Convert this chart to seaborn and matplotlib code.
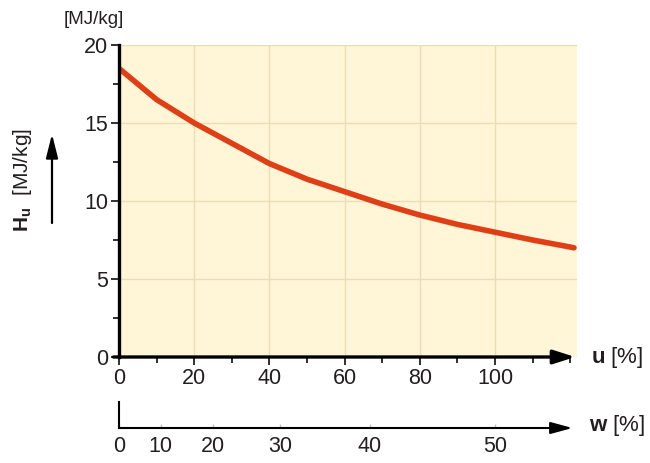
import numpy as np
import pandas as pd

import matplotlib.pyplot as plt
import seaborn as sns
from matplotlib.ticker import MultipleLocator


# ---------------- data ----------------
u_moisture = [0, 10, 20, 30, 40, 50, 60, 70, 80, 90, 100, 110, 120, 121]
heating_value = [18.5, 16.5, 15.0, 13.7, 12.4, 11.4, 10.6, 9.8, 9.1, 8.5, 8.0, 7.5, 7.05, 7.0]

u_ticks = [0, 20, 40, 60, 80, 100]
y_ticks = [0, 5, 10, 15, 20]
w_ticks = [0, 10, 20, 30, 40, 50]

df = pd.DataFrame({"u": u_moisture, "Hu": heating_value})

# ---------------- style ----------------
sns.set_theme(style="ticks")
plt.rcParams["font.family"] = ["Liberation Sans", "DejaVu Sans"]
plt.rcParams["mathtext.fontset"] = "custom"
plt.rcParams["mathtext.bf"] = "Liberation Sans:bold"
plt.rcParams["mathtext.rm"] = "Liberation Sans"

text_col = "#231f20"
fig = plt.figure(figsize=(6.5, 4.63), dpi=100)
W, H = 650, 463

x_left, x_right = 119, 577
ax = fig.add_axes([x_left / W, 1 - 357 / H, (x_right - x_left) / W, (357 - 45) / H])
ax.set_facecolor("#fef6d6")

sns.lineplot(x="u", y="Hu", data=df, color="#e03e14", linewidth=4, ax=ax)

ax.set_xlim(0, 121.8)
ax.set_ylim(0, 20)
ax.set_xticks(u_ticks)
ax.set_yticks(y_ticks)
ax.xaxis.set_minor_locator(MultipleLocator(10))
ax.yaxis.set_minor_locator(MultipleLocator(2.5))
ax.grid(True, which="major", color="#e8ddb5", linewidth=1)
ax.set_xlabel("")
ax.set_ylabel("")

for s in ["top", "right", "bottom"]:
    ax.spines[s].set_visible(False)
ax.spines["left"].set_linewidth(2.4)
ax.spines["left"].set_color("black")

ax.tick_params(axis="both", which="major", length=6, width=1.3, color=text_col,
               labelsize=15.5, labelcolor=text_col, pad=2)
ax.tick_params(axis="both", which="minor", length=4, width=1.3, color=text_col)

# u axis with arrow head
ax.annotate("", xy=(0.996, 0), xytext=(-0.012, 0), xycoords="axes fraction",
            arrowprops=dict(arrowstyle="-|>,head_length=1.1,head_width=0.35",
                            color="black", lw=2.4, shrinkA=0, shrinkB=0),
            annotation_clip=False)
fig.text(591 / W, 1 - 358 / H, r"$\mathbf{u}$ [%]", fontsize=16, color=text_col,
         va="center", ha="left")

# w axis below (same scale as u, w = u / (1 + u))
ax2 = fig.add_axes([x_left / W, 1 - 428 / H, (x_right - x_left) / W, (428 - 402) / H])
ax2.set_facecolor("none")
ax2.set_xlim(0, 121.8)
ax2.set_ylim(0, 1)
w_pos = [w / (100 - w) * 100 for w in w_ticks]
ax2.set_xticks(w_pos)
ax2.set_xticklabels([str(w) for w in w_ticks])
ax2.set_yticks([])
for s in ["top", "right", "bottom"]:
    ax2.spines[s].set_visible(False)
ax2.spines["left"].set_linewidth(1.5)
ax2.spines["left"].set_color("black")
ax2.tick_params(axis="x", length=3, width=1, color="#c0c0c0", direction="in",
                labelsize=15.5, labelcolor=text_col, pad=6)
ax2.annotate("", xy=(0.99, 0), xytext=(0, 0), xycoords="axes fraction",
             arrowprops=dict(arrowstyle="-|>,head_length=1.1,head_width=0.3",
                             color="black", lw=1.5, shrinkA=0, shrinkB=0),
             annotation_clip=False)
fig.text(589 / W, 1 - 425 / H, r"$\mathbf{w}$ [%]", fontsize=16, color=text_col,
         va="center", ha="left")

# y label, unit and arrow
fig.text(94 / W, 1 - 19 / H, "[MJ/kg]", fontsize=13.5, color=text_col,
         ha="center", va="center")
fig.text(22 / W, 1 - 180 / H, r"$\mathbf{H_u}$  [MJ/kg]", fontsize=15, color=text_col,
         rotation=90, ha="center", va="center")
ax.annotate("", xy=(52 / W, 1 - 134 / H), xytext=(52 / W, 1 - 223 / H),
            xycoords="figure fraction",
            arrowprops=dict(arrowstyle="-|>,head_length=1.2,head_width=0.3",
                            color="black", lw=1.6, shrinkA=0, shrinkB=0),
            annotation_clip=False)

fig.savefig("out.png", dpi=100)
